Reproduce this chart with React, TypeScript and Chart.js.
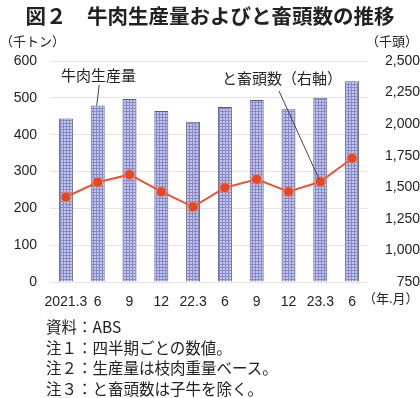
import React, { useEffect, useRef } from "react";
import { Chart, registerables } from "chart.js";
Chart.register(...registerables);

const categories = ["2021.3", "6", "9", "12", "22.3", "6", "9", "12", "23.3", "6"];
const production = [444, 479, 497, 464, 435, 475, 494, 469, 500, 545];
const slaughter = [1423, 1540, 1600, 1465, 1345, 1497, 1563, 1465, 1544, 1730];
const leftRange = [0, 600, 100];
const rightRange = [750, 2500, 250];
const notes = ["資料：ABS", "注１：四半期ごとの数値。", "注２：生産量は枝肉重量ベース。", "注３：と畜頭数は子牛を除く。"];

const JP = "'Noto Sans CJK JP', 'Liberation Sans', sans-serif";
const NUM = "'Liberation Sans', 'Noto Sans CJK JP', sans-serif";

function makePattern(): CanvasPattern | string {
  const c = document.createElement("canvas");
  c.width = 3;
  c.height = 3;
  const g = c.getContext("2d");
  if (!g) return "#a9acd8";
  g.fillStyle = "#c3c5ea";
  g.fillRect(0, 0, 3, 3);
  g.fillStyle = "#8589c8";
  g.fillRect(0, 0, 3, 1);
  g.fillRect(0, 0, 1, 3);
  const p = g.createPattern(c, "repeat");
  return p || "#a9acd8";
}

const annotationPlugin = {
  id: "annots",
  afterDatasetsDraw(chart: any) {
    const ctx = chart.ctx;
    const xs = chart.scales.x;
    const y = chart.scales.y;
    const y1 = chart.scales.y1;
    ctx.save();
    ctx.fillStyle = "#222";
    ctx.font = `15px ${JP}`;
    ctx.textBaseline = "middle";
    ctx.textAlign = "left";
    ctx.fillText("牛肉生産量", 61, 75);
    ctx.fillText("と畜頭数（右軸）", 222, 78);
    ctx.strokeStyle = "#444";
    ctx.lineWidth = 1;
    const bx = xs.getPixelForValue(1);
    const by = y.getPixelForValue(production[1]);
    ctx.beginPath();
    ctx.moveTo(bx + 1.5, 85);
    ctx.lineTo(bx - 1, by);
    ctx.stroke();
    const px = xs.getPixelForValue(8);
    const py = y1.getPixelForValue(slaughter[8]);
    ctx.beginPath();
    ctx.moveTo(279, 91);
    ctx.lineTo(px - 1, py - 2);
    ctx.stroke();
    ctx.restore();
  },
};

export default function App() {
  const ref = useRef<HTMLCanvasElement>(null);
  useEffect(() => {
    if (!ref.current) return;
    const pattern = makePattern();
    const chart = new Chart(ref.current, {
      type: "bar",
      data: {
        labels: categories,
        datasets: [
          {
            type: "line",
            label: "と畜頭数",
            data: slaughter,
            yAxisID: "y1",
            borderColor: "#e2583a",
            borderWidth: 2,
            pointRadius: 5,
            pointBackgroundColor: "#e0492a",
            pointBorderColor: "#f08a70",
            pointBorderWidth: 1,
            order: 0,
          } as any,
          {
            type: "bar",
            label: "牛肉生産量",
            data: production,
            yAxisID: "y",
            backgroundColor: pattern as any,
            borderColor: "#5a5d78",
            borderWidth: 1,
            categoryPercentage: 1,
            barPercentage: 0.44,
            order: 1,
          },
        ],
      },
      options: {
        responsive: false,
        animation: false,
        devicePixelRatio: 1,
        layout: { padding: { top: 61, left: 0, right: 0, bottom: 0 } },
        plugins: { legend: { display: false }, tooltip: { enabled: false }, title: { display: false } },
        scales: {
          x: {
            grid: { display: false },
            border: { display: false },
            ticks: { color: "#222", font: { family: NUM, size: 14 }, padding: 4, maxRotation: 0, autoSkip: false },
            afterFit(s: any) {
              s.height = 116;
            },
          },
          y: {
            position: "left",
            min: leftRange[0],
            max: leftRange[1],
            ticks: { stepSize: leftRange[2], color: "#222", font: { family: NUM, size: 14 }, padding: 13 },
            grid: { color: "#e4e4e4", drawTicks: false, lineWidth: 1 },
            border: { display: false },
            afterFit(s: any) {
              s.width = 50;
            },
          },
          y1: {
            position: "right",
            min: rightRange[0],
            max: rightRange[1],
            ticks: {
              stepSize: rightRange[2],
              color: "#222",
              font: { family: NUM, size: 14 },
              crossAlign: "far",
              padding: 2,
              callback: (v: any) => Number(v).toLocaleString("en-US"),
            },
            grid: { display: false, drawTicks: false },
            border: { display: false },
            afterFit(s: any) {
              s.width = 52;
            },
          },
        },
      },
      plugins: [annotationPlugin],
    });
    return () => chart.destroy();
  }, []);

  const abs = (extra: React.CSSProperties): React.CSSProperties => ({
    position: "absolute",
    whiteSpace: "nowrap",
    color: "#222",
    fontFamily: JP,
    lineHeight: 1,
    ...extra,
  });

  return (
    <div style={{ position: "absolute", left: 0, top: 0, width: 420, height: 398, background: "#fff", overflow: "hidden" }}>
      <canvas ref={ref} width={420} height={398} style={{ position: "absolute", left: 0, top: 0 }} />
      <div style={abs({ left: 0, width: 420, top: 5, textAlign: "center", fontSize: 20.5, fontWeight: "bold" })}>
        図２　牛肉生産量およびと畜頭数の推移
      </div>
      <div style={abs({ left: 0, top: 34, fontSize: 13 })}>（千トン）</div>
      <div style={abs({ right: 2, top: 34, fontSize: 13 })}>（千頭）</div>
      <div style={abs({ left: 363, top: 291, fontSize: 13 })}>（年.月）</div>
      {notes.map((n, i) => (
        <div key={i} style={abs({ left: 46, top: 319 + i * 20.5, fontSize: 15.5 })}>
          {n}
        </div>
      ))}
    </div>
  );
}
